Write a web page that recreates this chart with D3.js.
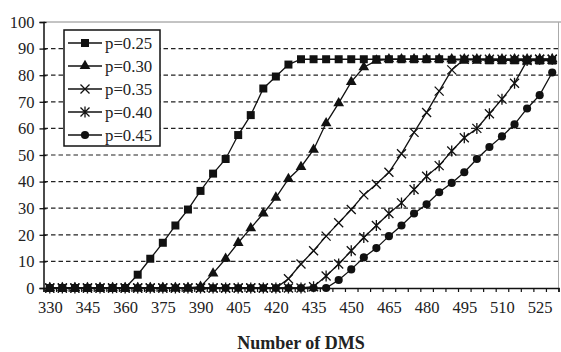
<!DOCTYPE html>
<html>
<head>
<meta charset="utf-8">
<script src="https://cdn.jsdelivr.net/npm/d3@7"></script>
<style>
  body { margin: 0; background: #fff; }
  text { font-family: "Liberation Serif", "Times New Roman", serif; fill: #222; }
</style>
</head>
<body>
<div id="container"></div>
<script>

const width = 561;
const height = 352;

// number of DMS (categories)
const dms = [330, 335, 340, 345, 350, 355, 360, 365, 370, 375, 380, 385, 390, 395, 400, 405, 410,
    415, 420, 425, 430, 435, 440, 445, 450, 455, 460, 465, 470, 475, 480, 485, 490, 495, 500, 505,
    510, 515, 520, 525, 530];

const p25 = [0, 0, 0, 0, 0, 0, 0, 5, 11, 17, 23.5, 29.5, 36.5, 43, 48.5, 57.5, 65, 75, 79.5, 84,
    86, 86, 86, 86, 86, 86, 86, 86, 86, 86, 86, 86, 85.8, 85.8, 85.8, 85.6, 85.6, 85.6, 85.5, 85.5, 85.5];
const p30 = [0, 0, 0, 0, 0, 0, 0, 0, 0, 0, 0, 0, 0.5, 5.5, 11, 17, 22.5, 28, 34, 41, 45.5, 52, 62,
    69.5, 77.5, 83, 85.5, 86, 86, 86, 86, 86, 86, 86, 86, 86, 86, 86, 86, 86, 86];
const p35 = [0, 0, 0, 0, 0, 0, 0, 0, 0, 0, 0, 0, 0, 0, 0, 0, 0, 0, 0, 3.5, 9, 14, 19.5, 24.5, 29.5,
    35, 39, 43.5, 50.5, 58.5, 66, 74, 82, 86, 86, 86, 86, 86, 86, 86, 86];
const p40 = [0, 0, 0, 0, 0, 0, 0, 0, 0, 0, 0, 0, 0, 0, 0, 0, 0, 0, 0, 0, 0, 0.5, 4.5, 9, 14, 19,
    23.5, 28, 32, 37, 42, 46, 51.5, 56.5, 60, 65.5, 71, 77, 85.5, 86, 86];
const p45 = [0, 0, 0, 0, 0, 0, 0, 0, 0, 0, 0, 0, 0, 0, 0, 0, 0, 0, 0, 0, 0, 0, 0, 3, 7, 11.5, 15,
    19.5, 23.5, 28, 31.5, 36, 39.5, 43.5, 48.5, 53, 57, 61.5, 67.5, 72.5, 81];

const seriesNames = ['p=0.25', 'p=0.30', 'p=0.35', 'p=0.40', 'p=0.45'];
const seriesValues = [p25, p30, p35, p40, p45];
const markerKinds = ['square', 'triangle', 'x', 'star', 'circle'];

const yTicks = [0, 10, 20, 30, 40, 50, 60, 70, 80, 90, 100];

const svg = d3.select('#container').append('svg')
    .attr('width', width)
    .attr('height', height);

const plotLeft = 43.5, plotRight = 558.5, plotTop = 22, plotBottom = 288;

// index scale: category i sits between i and i+1
const xi = d3.scaleLinear().domain([0, dms.length]).range([plotLeft, plotRight]);
const cx = i => xi(i + 0.5);
const y = d3.scaleLinear().domain([0, 100]).range([plotBottom, plotTop]);

const markerPath = (kind) => {
    if (kind === 'square') return d3.symbol(d3.symbolSquare, 64)();
    if (kind === 'triangle') return d3.symbol(d3.symbolTriangle, 50)();
    if (kind === 'circle') return d3.symbol(d3.symbolCircle, 52)();
    if (kind === 'x') return 'M-4.5,-4.5L4.5,4.5M-4.5,4.5L4.5,-4.5';
    return 'M-4.5,-4.5L4.5,4.5M-4.5,4.5L4.5,-4.5M0,-5.5L0,5.5';
};
const markerStyle = (sel, kind) => {
    if (kind === 'x' || kind === 'star') {
        sel.attr('fill', 'none').attr('stroke', '#111').attr('stroke-width', 1.3);
    } else {
        sel.attr('fill', '#111').attr('stroke', 'none');
    }
};

// gridlines
svg.append('g')
    .selectAll('line')
    .data(yTicks.filter(d => d > 0 && d < 100))
    .join('line')
    .attr('x1', plotLeft)
    .attr('x2', plotRight)
    .attr('y1', d => y(d))
    .attr('y2', d => y(d))
    .attr('stroke', '#222')
    .attr('stroke-width', 1.2)
    .attr('stroke-dasharray', '4.5,3');

// plot border (top / right)
svg.append('line')
    .attr('x1', plotLeft).attr('x2', width)
    .attr('y1', y(100)).attr('y2', y(100))
    .attr('stroke', '#888').attr('stroke-width', 1);
svg.append('line')
    .attr('x1', plotRight).attr('x2', plotRight)
    .attr('y1', y(100)).attr('y2', y(0))
    .attr('stroke', '#aaa').attr('stroke-width', 1);

// y axis
const yAxis = svg.append('g')
    .attr('transform', `translate(${plotLeft},0)`)
    .call(d3.axisLeft(y).tickValues(yTicks).tickSize(4).tickPadding(5));
yAxis.select('.domain').attr('stroke', '#111').attr('stroke-width', 1.5);
yAxis.selectAll('.tick line').attr('x1', 3).attr('stroke', '#111').attr('stroke-width', 1.3);
yAxis.selectAll('.tick text')
    .style('font-family', '"Liberation Serif", serif')
    .style('font-size', '16.5px')
    .attr('fill', '#222');

// x axis: ticks at category boundaries
const xTickAxis = svg.append('g')
    .attr('transform', `translate(0,${plotBottom})`)
    .call(d3.axisBottom(xi).tickValues(d3.range(0, dms.length + 1)).tickSize(4).tickFormat(''));
xTickAxis.select('.domain').attr('stroke', '#111').attr('stroke-width', 1.5);
xTickAxis.selectAll('.tick line').attr('stroke', '#111').attr('stroke-width', 1.2);

// x labels every third category
const labelIdx = d3.range(0, dms.length).filter(i => i % 3 === 0 && i < dms.length - 1);
const xLabelAxis = svg.append('g')
    .attr('transform', `translate(0,${plotBottom})`)
    .call(d3.axisBottom(xi)
        .tickValues(labelIdx.map(i => i + 0.5))
        .tickSize(0)
        .tickPadding(13)
        .tickFormat(v => dms[Math.round(v - 0.5)]));
xLabelAxis.select('.domain').remove();
xLabelAxis.selectAll('.tick text')
    .style('font-family', '"Liberation Serif", serif')
    .style('font-size', '16.5px')
    .attr('fill', '#222');

// axis title
svg.append('text')
    .attr('x', (plotLeft + plotRight) / 2)
    .attr('y', 349)
    .attr('text-anchor', 'middle')
    .attr('font-weight', 'bold')
    .style('font-size', '18px')
    .text('Number of DMS');

// series, drawn last-to-first so p=0.25 sits on top
const line = d3.line()
    .x((d, i) => cx(i))
    .y(d => y(d));

d3.range(seriesValues.length - 1, -1, -1).forEach(s => {
    const vals = seriesValues[s];
    const kind = markerKinds[s];
    const g = svg.append('g');
    g.append('path')
        .datum(vals)
        .attr('d', line)
        .attr('fill', 'none')
        .attr('stroke', '#111')
        .attr('stroke-width', 1.3);
    g.selectAll('path.mark')
        .data(vals)
        .join('path')
        .attr('class', 'mark')
        .attr('transform', (d, i) => `translate(${cx(i)},${y(d)})`)
        .attr('d', markerPath(kind))
        .call(markerStyle, kind);
});

// legend
const legend = svg.append('g').attr('transform', 'translate(64,30)');
legend.append('rect')
    .attr('width', 96)
    .attr('height', 116)
    .attr('fill', '#fff')
    .attr('stroke', '#111')
    .attr('stroke-width', 1.5);
const ly = d3.scaleLinear().domain([0, 4]).range([13, 105]);
seriesNames.forEach((name, s) => {
    const row = legend.append('g').attr('transform', `translate(0,${ly(s)})`);
    row.append('line')
        .attr('x1', 4).attr('x2', 38)
        .attr('stroke', '#111').attr('stroke-width', 1.5);
    row.append('path')
        .attr('transform', 'translate(21,0)')
        .attr('d', markerPath(markerKinds[s]))
        .call(markerStyle, markerKinds[s]);
    row.append('text')
        .attr('x', 41)
        .attr('y', 6)
        .style('font-size', '16.8px')
        .text(name);
});

</script>
</body>
</html>
